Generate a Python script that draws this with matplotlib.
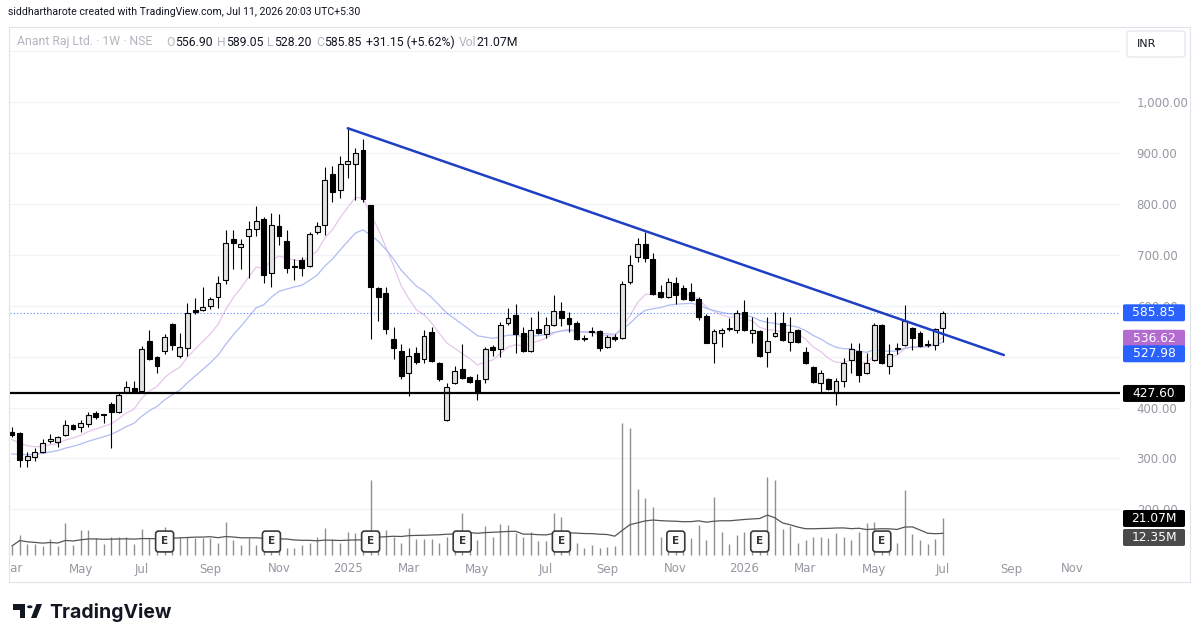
import numpy as np
import pandas as pd
import matplotlib
matplotlib.use("Agg")
import matplotlib.pyplot as plt
from matplotlib.patches import FancyBboxPatch, Rectangle, Polygon, Circle
from matplotlib.transforms import Bbox, TransformedBbox, IdentityTransform

# --- data: weekly candles, Anant Raj Ltd. (NSE), first week 2024-03-04 ---
first_week = "2024-03-04"
opens = [352, 350, 298, 303, 313, 334, 332, 346, 365, 362, 367, 390, 387, 406, 392, 430, 438, 433, 530, 500,
         510, 563, 501, 516, 592, 591, 599, 616, 650, 730, 714, 737, 750, 769, 663, 757, 727, 678, 689, 678,
         744, 758, 858, 827, 878, 878, 905, 797, 635, 624, 534, 510, 467, 506, 495, 549, 487, 375, 449, 476,
         459, 454, 455, 519, 514, 565, 581, 546, 510, 555, 544, 561, 590, 575, 566, 537, 548, 550, 519, 539,
         537, 646, 696, 721, 691, 626, 617, 644, 635, 627, 613, 580, 527, 547, 554, 553, 587, 546, 550, 508,
         540, 565, 529, 553, 508, 480, 449, 455, 431, 453, 493, 511, 467, 493, 562, 481, 514, 522, 556, 547,
         522, 523, 556.90]
highs = [362, 351, 313, 320, 338, 349, 345, 375, 368, 376, 391, 393, 388, 410, 428, 452, 452, 520, 552, 502,
         544, 566, 546, 606, 615, 636, 616, 659, 748, 748, 730, 765, 795, 773, 781, 780, 748, 691, 696, 745,
         763, 872, 874, 893, 948, 909, 926, 798, 637, 637, 557, 524, 516, 519, 552, 557, 490, 448, 481, 525,
         462, 465, 518, 522, 568, 595, 604, 557, 578, 590, 578, 621, 608, 588, 570, 543, 557, 552, 542, 545,
         648, 699, 732, 745, 703, 640, 655, 657, 640, 644, 616, 583, 555, 556, 575, 591, 610, 578, 552, 578,
         588, 588, 578, 555, 519, 482, 474, 458, 457, 497, 527, 527, 506, 565, 564, 525, 527, 601, 558, 550,
         532, 556, 589.05]
lows = [343, 284, 284, 296, 311, 330, 323, 344, 355, 351, 362, 378, 370, 321, 390, 428, 428, 430, 494, 468,
        505, 513, 498, 501, 583, 589, 594, 595, 642, 671, 671, 654, 737, 644, 636, 719, 663, 650, 658, 675,
        740, 738, 804, 812, 850, 807, 804, 534, 570, 544, 495, 455, 423, 485, 487, 490, 453, 374, 447, 456,
        449, 415, 449, 501, 500, 562, 506, 509, 508, 545, 536, 559, 560, 549, 532, 530, 540, 511, 516, 530,
        535, 643, 686, 686, 620, 615, 615, 604, 610, 609, 572, 526, 487, 519, 551, 546, 550, 527, 499, 480,
        538, 530, 511, 526, 486, 449, 431, 435, 405, 441, 467, 451, 465, 491, 485, 466, 505, 520, 513, 519,
        518, 513, 528.20]
closes = [346, 298, 304, 312, 330, 339, 342, 366, 358, 369, 386, 381, 385, 391, 424, 440, 430, 514, 496, 481,
          538, 522, 519, 586, 587, 597, 612, 645, 723, 722, 720, 750, 766, 660, 758, 737, 674, 675, 673, 740,
          757, 846, 823, 877, 884, 899, 809, 637, 617, 555, 516, 462, 501, 490, 540, 492, 455, 440, 472, 458,
          451, 428, 514, 513, 562, 575, 544, 511, 553, 547, 561, 590, 575, 564, 534, 535, 550, 516, 538, 534,
          642, 680, 721, 693, 622, 617, 646, 621, 613, 611, 577, 527, 550, 552, 556, 585, 552, 552, 501, 531,
          547, 532, 549, 528, 488, 451, 467, 437, 453, 488, 515, 464, 488, 562, 488, 505, 516, 570, 536, 521,
          524, 554.70, 585.85]
volume_m = [5.2, 11.5, 6.2, 6.2, 5.2, 9.0, 5.2, 18.7, 5.8, 14.4, 14.4, 9.6, 6.3, 10.6, 10.6, 10.6, 6.2, 14.8, 9.6, 7.0,
            16.0, 7.0, 10.6, 10.2, 9.6, 9.6, 9.6, 7.1, 19.2, 8.7, 5.8, 9.6, 5.8, 6.0, 8.0, 6.0, 4.2, 3.8, 5.8, 6.7,
            10.6, 15.4, 9.0, 6.7, 13.5, 12.5, 10.0, 43.3, 14.4, 14.4, 10.6, 6.7, 15.4, 9.4, 9.4, 9.0, 6.7, 10.6, 8.0, 24.4,
            8.0, 8.7, 16.7, 10.6, 17.9, 17.3, 12.5, 10.6, 13.5, 8.3, 8.3, 24.4, 22.1, 8.0, 7.1, 3.8, 5.8, 3.8, 4.8, 5.2,
            76.3, 73.1, 37.9, 33.1, 27.5, 10.6, 8.0, 8.0, 8.0, 9.6, 17.3, 8.7, 33.3, 13.5, 6.3, 11.5, 13.5, 10.0, 10.0, 44.8,
            43.3, 14.8, 16.7, 6.7, 8.7, 10.2, 10.6, 9.6, 12.5, 10.6, 8.7, 13.5, 18.3, 19.2, 10.0, 10.0, 6.7, 37.5, 12.1, 8.7,
            6.3, 9.0, 21.07]
earnings_idx = [20, 34, 47, 59, 72, 87, 98, 114]

ema_fast_len, ema_slow_len = 10, 20
ema_seed = (335, 305)          # indicator values read at the first visible candle
vol_ma_len = 20

trend_idx = [44, 130]
trend_price = [948, 503]
support = 427.60

price_ticks = [200, 300, 400, 600, 700, 800, 900, 1000]   # 500.00 sits under the EMA tags
month_names = {1: None, 3: "Mar", 5: "May", 7: "Jul", 9: "Sep", 11: "Nov"}

# --- layout (pixels) ---
W, H = 1200, 643
PL, PR, PT, PB = 10, 1120, 27, 557
X0, STEP = 12, 7.63
YMAX = 1000 + (101.7 - PT) / 0.5097
YMIN = 1000 - (PB - 101.7) / 0.5097
VOL_BASE, VOL_PX = 555, 1.733
GRAY = "#9598a1"
LGRAY = "#b2b5be"
DARK = "#131722"


def fx(px):
    return px / W


def fy(py):
    return 1 - py / H


def ema(vals, n, seed):
    a = 2 / (n + 1)
    out = []
    prev = seed
    for val in vals:
        prev = a * val + (1 - a) * prev
        out.append(prev)
    return np.array(out)


o = np.array(opens, float)
h = np.array(highs, float)
l = np.array(lows, float)
c = np.array(closes, float)
v = np.array(volume_m, float)
n = len(c)
idx = np.arange(n)

fig = plt.figure(figsize=(W / 100, H / 100), dpi=100)
fig.patch.set_facecolor("white")

ax = fig.add_axes([fx(PL), fy(PB), (PR - PL) / W, (PB - PT) / H])
ax.set_xlim((PL - X0) / STEP, (PR - X0) / STEP)
ax.set_ylim(YMIN, YMAX)
for s in ax.spines.values():
    s.set_visible(False)
ax.patch.set_alpha(0)

# grid
for p in range(100, 1200, 100):
    ax.axhline(p, color="#f0f3fa", lw=0.9, zorder=0)

# moving averages
ax.plot(idx, ema(c, ema_fast_len, ema_seed[0]), color="#e6c6ea", lw=0.9, zorder=2)
ax.plot(idx, ema(c, ema_slow_len, ema_seed[1]), color="#b0bdf2", lw=0.9, zorder=2)

# candles
up = c >= o
body_lo = np.minimum(o, c)
body_h = np.maximum(np.abs(c - o), 1.5)
ax.vlines(idx, l, h, color="#000000", lw=0.8, zorder=3)
ax.bar(idx[up], body_h[up], bottom=body_lo[up], width=0.64, color="#e3e3e3",
       edgecolor="#000000", lw=0.8, zorder=4)
ax.bar(idx[~up], body_h[~up], bottom=body_lo[~up], width=0.64, color="#000000",
       edgecolor="#000000", lw=0.8, zorder=4)

# drawings
ax.axhline(c[-1], color="#2962ff", lw=0.8, ls=(0, (1, 2)), alpha=0.8, zorder=2)
ax.axhline(support, color="#000000", lw=1.6, zorder=5)
ax.plot(trend_idx, trend_price, color="#1f3fc4", lw=1.8, zorder=6, solid_capstyle="round")

# price axis
ax.set_xticks([])
ax.yaxis.tick_right()
ax.set_yticks(price_ticks)
ax.set_yticklabels([f"{p:,.2f}" for p in price_ticks])
ax.tick_params(axis="y", length=0, pad=12, labelsize=8.5, labelcolor=GRAY)

# volume overlay
axv = fig.add_axes(ax.get_position(), sharex=ax)
axv.set_ylim(-(PB - VOL_BASE) / VOL_PX, (VOL_BASE - PT) / VOL_PX)
axv.axis("off")
axv.patch.set_alpha(0)
axv.vlines(idx, 0, v, color="#8f8f8f", lw=1.0, zorder=1)
vol_ma = pd.Series(v).rolling(vol_ma_len, min_periods=1).mean()
axv.plot(idx, vol_ma, color="#555555", lw=0.9, zorder=2)
for e in earnings_idx:
    axv.text(e, (VOL_BASE - 541.5) / VOL_PX, "E", ha="center", va="center", fontsize=7.5,
             fontweight="bold", color="#333333", zorder=5,
             bbox=dict(boxstyle="round,pad=0.52,rounding_size=0.28", fc="#fbfbfb", ec="#3a3a3a", lw=1.2))

# date labels
weeks = pd.date_range(first_week, periods=150, freq="7D")
clip = TransformedBbox(Bbox.from_extents(PL, 0, PR, H), IdentityTransform())
for i, d in enumerate(weeks):
    if d.month in month_names and d.day <= 7:
        lab = str(d.year) if d.month == 1 else month_names[d.month]
        t = ax.text(i, -(569 - PB) / (PB - PT), lab, transform=ax.get_xaxis_transform(),
                    ha="center", va="center", fontsize=8.5, color=GRAY, clip_on=True)
        t.set_clip_box(clip)


# right-hand value boxes
def value_box(ypx, text, color):
    fig.add_artist(FancyBboxPatch((fx(1123), fy(ypx + 8.5)), 62 / W, 17 / H,
                                  boxstyle="round,pad=0,rounding_size=0.002",
                                  transform=fig.transFigure, fc=color, ec="none", zorder=10))
    fig.text(fx(1154), fy(ypx), text, ha="center", va="center", fontsize=8.8,
             color="white", zorder=11)


def price_px(p):
    return PT + (YMAX - p) / (YMAX - YMIN) * (PB - PT)


value_box(price_px(c[-1]), f"{c[-1]:.2f}", "#2962ff")
value_box(price_px(c[-1]) + 25.5, "536.62", "#b46bd0")
value_box(price_px(c[-1]) + 41, "527.98", "#2962ff")
value_box(price_px(support), f"{support:.2f}", "#000000")
value_box(VOL_BASE - v[-1] * VOL_PX, f"{v[-1]:.2f}M", "#000000")
value_box(VOL_BASE - v[-1] * VOL_PX + 19, "12.35M", "#4a4a4a")

# frame
fig.add_artist(Rectangle((fx(9), fy(582)), (1190 - 9) / W, (582 - PT) / H, transform=fig.transFigure,
                         fill=False, ec="#e0e3eb", lw=0.8, zorder=0))
fig.add_artist(FancyBboxPatch((fx(1127), fy(57)), 58 / W, 26 / H, boxstyle="round,pad=0,rounding_size=0.003",
                              transform=fig.transFigure, fc="white", ec="#e0e3eb", lw=0.8, zorder=10))
fig.text(fx(1137), fy(44), "INR", ha="left", va="center", fontsize=8, color=DARK, zorder=11)

# header + legend
fig.text(fx(8), fy(12), "siddhartharote created with TradingView.com, Jul 11, 2026 20:03 UTC+5:30",
         ha="left", va="center", fontsize=7.6, color=DARK, family="Roboto")

chg = c[-1] - c[-2]
legend_parts = [
    ("Anant Raj Ltd. \u00b7 1W \u00b7 NSE", LGRAY, 14),
    ("O", LGRAY, 0.5), (f"{o[-1]:.2f}", DARK, 4),
    ("H", LGRAY, 0.5), (f"{h[-1]:.2f}", DARK, 4),
    ("L", LGRAY, 0.5), (f"{l[-1]:.2f}", DARK, 4),
    ("C", LGRAY, 0.5), (f"{c[-1]:.2f}", DARK, 4),
    (f"+{chg:.2f} (+{chg / c[-2] * 100:.2f}%)", DARK, 4),
    ("Vol", LGRAY, 0.5), (f"{v[-1]:.2f}M", DARK, 0),
]
renderer = fig.canvas.get_renderer()
x = 17
for s, col, gap in legend_parts:
    t = fig.text(fx(x), fy(42), s, ha="left", va="center", fontsize=8.8, color=col, family="Roboto")
    x += t.get_window_extent(renderer).width + gap

# logo
for shape in [
    Polygon([(fx(12.5), fy(604)), (fx(25), fy(604)), (fx(25), fy(618)), (fx(19.5), fy(618)),
             (fx(19.5), fy(609.5)), (fx(12.5), fy(609.5))], closed=True),
    Polygon([(fx(31), fy(618)), (fx(36.5), fy(618)), (fx(42), fy(604)), (fx(36.5), fy(604))], closed=True),
]:
    shape.set_transform(fig.transFigure)
    shape.set_facecolor(DARK)
    shape.set_edgecolor("none")
    fig.add_artist(shape)
fig.add_artist(Circle((fx(29.8), fy(606.8)), 2.7 / W, transform=fig.transFigure, fc=DARK, ec="none"))
fig.text(fx(49), fy(612), "TradingView", ha="left", va="center", fontsize=14, fontweight="bold",
         color=DARK, family="Inter")

fig.savefig("out.png", dpi=100)
